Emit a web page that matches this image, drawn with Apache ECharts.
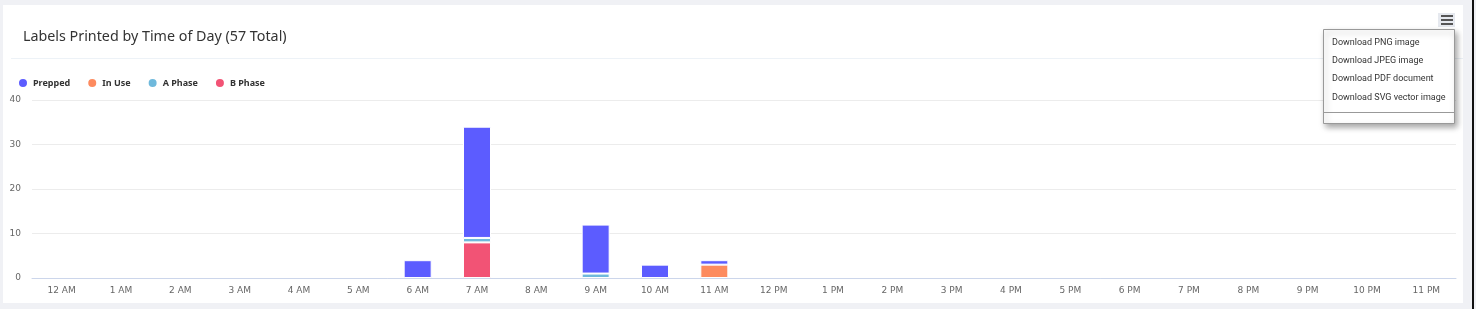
<!DOCTYPE html>
<html lang="en">
<head>
    <meta charset="UTF-8">
    <title>Labels Printed by Time of Day</title>
    <script src="https://cdn.jsdelivr.net/npm/echarts@6/dist/echarts.min.js"></script>
    <style>
        body { margin: 0; background: #f0f1f5; width: 1476px; height: 309px; position: relative; overflow: hidden; }
        #card { position: absolute; left: 3px; top: 5px; width: 1460px; height: 298px; background: #fff; }
        #edge { position: absolute; left: 1472px; top: 0; width: 2px; height: 309px; background: #111; }
    </style>
</head>
<body>
<div id="card"></div>
<div id="edge"></div>
<script type="text/javascript">
    // hours of the day
    let hours = ["12 AM", "1 AM", "2 AM", "3 AM", "4 AM", "5 AM", "6 AM", "7 AM", "8 AM", "9 AM", "10 AM", "11 AM",
        "12 PM", "1 PM", "2 PM", "3 PM", "4 PM", "5 PM", "6 PM", "7 PM", "8 PM", "9 PM", "10 PM", "11 PM"];
    let prepped = [0, 0, 0, 0, 0, 0, 4, 25, 0, 11, 3, 1, 0, 0, 0, 0, 0, 0, 0, 0, 0, 0, 0, 0];
    let inUse   = [0, 0, 0, 0, 0, 0, 0, 0, 0, 0, 0, 3, 0, 0, 0, 0, 0, 0, 0, 0, 0, 0, 0, 0];
    let aPhase  = [0, 0, 0, 0, 0, 0, 0, 1, 0, 1, 0, 0, 0, 0, 0, 0, 0, 0, 0, 0, 0, 0, 0, 0];
    let bPhase  = [0, 0, 0, 0, 0, 0, 0, 8, 0, 0, 0, 0, 0, 0, 0, 0, 0, 0, 0, 0, 0, 0, 0, 0];
    let menuItems = ["Download PNG image", "Download JPEG image", "Download PDF document", "Download SVG vector image"];
    let menuY = [38, 56, 74, 93];

    let font = "'DejaVu Sans', sans-serif";
    let menuFont = "Roboto, sans-serif";

    function bar(name, data, color) {
        return {
            name: name,
            type: 'bar',
            stack: 'total',
            // empty hours get no bar at all
            data: data.map(function (v) { return v === 0 ? '-' : v; }),
            barWidth: 28,
            itemStyle: { color: color, borderColor: '#fff', borderWidth: 1 },
            emphasis: { disabled: true }
        };
    }

    let menu = [
        // hamburger button
        { type: 'rect', shape: { x: 1435, y: 8, width: 17, height: 14 }, style: { fill: '#e6e9ef' } },
        { type: 'rect', shape: { x: 1438, y: 10, width: 12, height: 2 }, style: { fill: '#555' } },
        { type: 'rect', shape: { x: 1438, y: 14, width: 12, height: 2 }, style: { fill: '#555' } },
        { type: 'rect', shape: { x: 1438, y: 18, width: 12, height: 2 }, style: { fill: '#555' } },
        // dropdown
        {
            type: 'rect', z: 100,
            shape: { x: 1320.5, y: 24.5, width: 131, height: 94 },
            style: { fill: '#fff', stroke: '#999', lineWidth: 1, shadowBlur: 6, shadowOffsetX: 2, shadowOffsetY: 3, shadowColor: 'rgba(0,0,0,0.35)' }
        },
        { type: 'line', z: 101, shape: { x1: 1321, y1: 107.5, x2: 1451, y2: 107.5 }, style: { stroke: '#999', lineWidth: 1 } }
    ];
    menuItems.forEach(function (t, i) {
        menu.push({
            type: 'text', z: 101, x: 1329, y: menuY[i],
            style: { text: t, fill: '#333', font: '9px ' + menuFont, verticalAlign: 'middle' }
        });
    });
    // divider under the title
    menu.push({ type: 'line', shape: { x1: 8, y1: 53.5, x2: 1460, y2: 53.5 }, style: { stroke: '#edf2f7', lineWidth: 1 } });

    let option = {
        animation: false,
        textStyle: { fontFamily: font },
        title: {
            text: 'Labels Printed by Time of Day (57 Total)',
            left: 20, top: 25, padding: 0,
            textStyle: { fontSize: 14.3, fontWeight: 'normal', color: '#333', fontFamily: "'Noto Sans', sans-serif" }
        },
        legend: {
            data: ['Prepped', 'In Use', 'A Phase', 'B Phase'],
            left: 14, top: 72, padding: 0,
            icon: 'circle', itemWidth: 10, itemHeight: 10, itemGap: 16,
            textStyle: { fontSize: 9, fontWeight: 'bold', color: '#333', fontFamily: "'Noto Sans', sans-serif" }
        },
        grid: { left: 29, right: 7, top: 95, bottom: 25 },
        xAxis: {
            type: 'category',
            data: hours,
            axisLine: { lineStyle: { color: '#ccd6eb' } },
            axisTick: { show: false },
            axisLabel: { fontSize: 9, color: '#666', margin: 8, interval: 0 }
        },
        yAxis: {
            type: 'value',
            min: 0, max: 40, interval: 10,
            axisLabel: { fontSize: 9, color: '#666', margin: 11 },
            splitLine: { lineStyle: { color: '#ececec' } }
        },
        graphic: menu,
        series: [
            bar('B Phase', bPhase, '#f25375'),
            bar('A Phase', aPhase, '#6fb9dc'),
            bar('In Use', inUse, '#fd8b5f'),
            bar('Prepped', prepped, '#5c5cff')
        ]
    };

    let myChart = echarts.init(document.getElementById('card'));
    myChart.setOption(option);
</script>
</body>
</html>
